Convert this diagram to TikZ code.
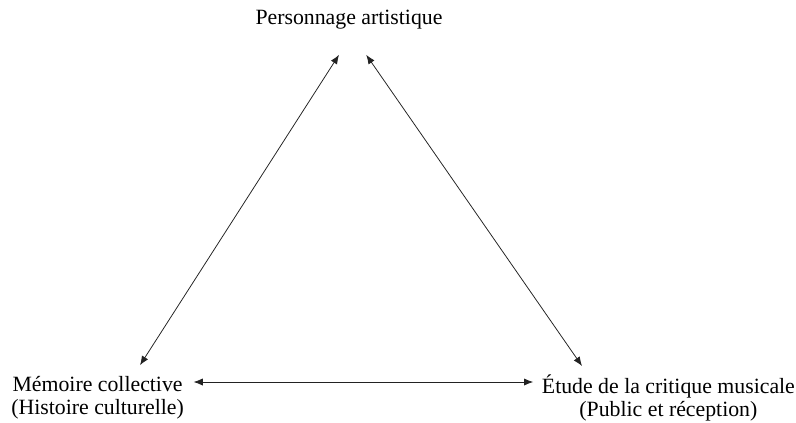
\documentclass[tikz,border=0pt]{standalone}
\usepackage{fontspec}
\setmainfont{Liberation Serif}
\usepackage{tikz}
\usetikzlibrary{calc,arrows.meta,positioning}
\usepackage{xcolor}
\definecolor{fg}{HTML}{222222}

\begin{document}
\begin{tikzpicture}[
  polenode/.style={
    inner sep=0pt,
    align=center,
    font=\fontsize{15.5}{16.5}\selectfont
  },
  linkarrow/.style={
    fg,
    line width=0.55pt,
    {Latex[length=2.3mm,width=1.8mm]}-{Latex[length=2.3mm,width=1.8mm]}
  }
  ]
  \useasboundingbox (0,0) rectangle (19.9,10.55);

  % the three poles
  \node[polenode] (perso) at (8.725, 10.05) {Personnage artistique};
  \node[polenode] (memoire) at (2.44, 0.6) {Mémoire collective\\(Histoire culturelle)};
  \node[polenode] (critique) at (16.71, 0.6) {Étude de la critique musicale\\(Public et réception)};

  % links
  \draw[linkarrow] ($(memoire)+(1.06, .82)$) -- ($(perso)+(-.25, -.87)$);
  \draw[linkarrow] ($(perso)+(.43, -.87)$) -- ($(critique)+(-2.16, .8)$);
  \draw[linkarrow] ($(memoire)+(2.4, .4)$) -- ($(critique)+(-3.38, .4)$);

\end{tikzpicture}
\end{document}
